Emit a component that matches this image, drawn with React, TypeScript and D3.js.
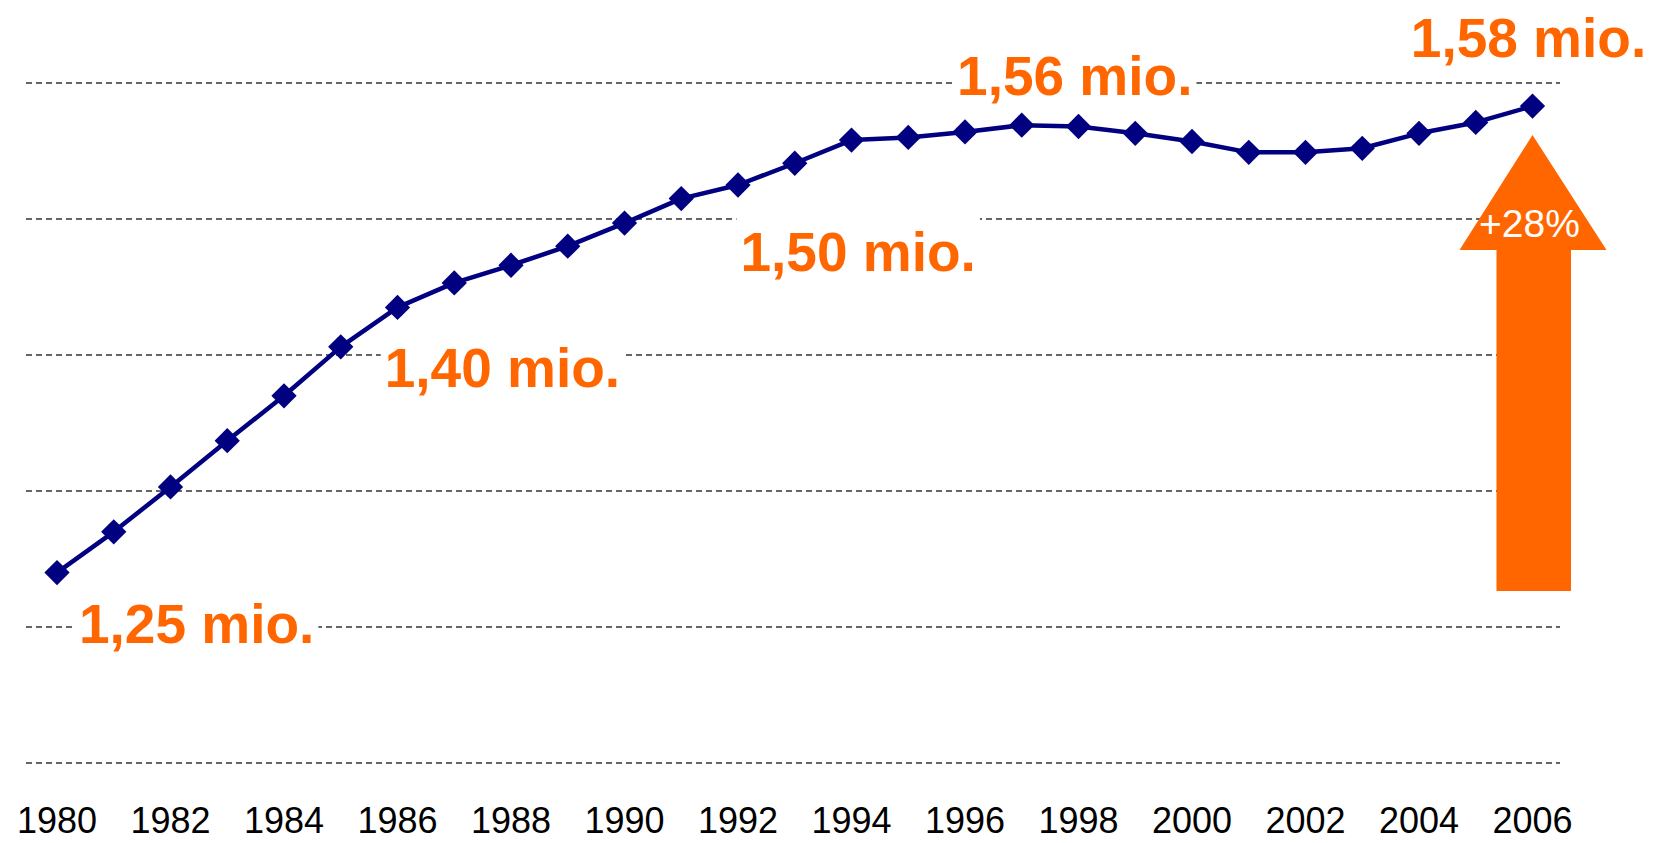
import { useEffect, useRef } from 'react'
import * as d3 from 'd3'

const years = [1980, 1981, 1982, 1983, 1984, 1985, 1986, 1987, 1988, 1989, 1990, 1991, 1992,
  1993, 1994, 1995, 1996, 1997, 1998, 1999, 2000, 2001, 2002, 2003, 2004, 2005, 2006]
// population, millions
const values = [1.240, 1.270, 1.303, 1.337, 1.370, 1.406, 1.435, 1.453, 1.466, 1.480, 1.497,
  1.515, 1.525, 1.541, 1.558, 1.560, 1.564, 1.569, 1.568, 1.563, 1.557, 1.549, 1.549,
  1.552, 1.563, 1.571, 1.583]
const gridValues = [1.1, 1.2, 1.3, 1.4, 1.5, 1.6]
const tickYears = [1980, 1982, 1984, 1986, 1988, 1990, 1992, 1994, 1996, 1998, 2000, 2002, 2004, 2006]
const labelTexts = ['1,25 mio.', '1,40 mio.', '1,50 mio.', '1,56 mio.', '1,58 mio.']
const labelYears = [1980, 1985, 1990, 1997, 2006]
const growthText = '+28%'

const ORANGE = '#ff6600'
const NAVY = '#000080'

export default function App() {
  const svgRef = useRef<SVGSVGElement>(null)

  useEffect(() => {
    if (!svgRef.current) return
    const svg = d3.select(svgRef.current)
    svg.selectAll('*').remove()

    const W = 1653, H = 843
    svg.attr('width', W).attr('height', H)

    const x = d3.scaleLinear().domain([1980, 2006]).range([57, 1532.5])
    const y = d3.scaleLinear().domain([1.1, 1.6]).range([763, 83])

    // dashed gridlines
    svg.append('g').selectAll('line').data(gridValues).join('line')
      .attr('x1', 26).attr('x2', 1560)
      .attr('y1', d => y(d)).attr('y2', d => y(d))
      .attr('stroke', '#333').attr('stroke-width', 1.5)
      .attr('stroke-dasharray', '6,4')

    // year labels
    svg.append('g').selectAll('text').data(tickYears).join('text')
      .attr('x', d => x(d)).attr('y', 833)
      .attr('text-anchor', 'middle')
      .attr('font-family', 'Liberation Sans, Arial, sans-serif')
      .attr('font-size', 36).attr('fill', '#000')
      .text(d => d)

    // value annotations with white boxes
    const offsets = [[22, 70, 'start'], [44, 40, 'start'], [116, 48, 'start'], [53, -30, 'middle'], [-4, -49, 'middle']]
    const lg = svg.append('g')
    labelTexts.forEach((txt, i) => {
      const yr = labelYears[i]
      const v = values[years.indexOf(yr)]
      const [dx, dy, anchor] = offsets[i] as [number, number, string]
      const gg = lg.append('g')
      const box = gg.append('rect').attr('fill', '#fff')
      const t = gg.append('text')
        .attr('x', x(yr) + dx).attr('y', y(v) + dy)
        .attr('text-anchor', anchor)
        .attr('font-family', 'Liberation Sans, Arial, sans-serif')
        .attr('font-weight', 'bold').attr('font-size', 55)
        .attr('fill', ORANGE)
        .text(txt)
      const bb = (t.node() as SVGTextElement).getBBox()
      box.attr('x', bb.x - 4).attr('y', bb.y - 6).attr('width', bb.width + 8).attr('height', bb.height + 8)
    })

    // series line
    const pts = years.map((yr, i) => [x(yr), y(values[i])] as [number, number])
    svg.append('path')
      .attr('d', d3.line()(pts))
      .attr('fill', 'none').attr('stroke', NAVY).attr('stroke-width', 4.5)
      .attr('stroke-linejoin', 'round')

    const diamond = d3.symbol(d3.symbolSquare, 320)
    svg.append('g').selectAll('path').data(pts).join('path')
      .attr('d', diamond)
      .attr('transform', d => `translate(${d[0]},${d[1]}) rotate(45)`)
      .attr('fill', NAVY)

    // growth arrow
    const ax = x(2006)
    const arrow = d3.path()
    arrow.moveTo(ax, 135)
    arrow.lineTo(ax + 74, 250)
    arrow.lineTo(ax + 38.5, 250)
    arrow.lineTo(ax + 38.5, 591)
    arrow.lineTo(ax - 36, 591)
    arrow.lineTo(ax - 36, 250)
    arrow.lineTo(ax - 73, 250)
    arrow.closePath()
    svg.append('path').attr('d', arrow.toString()).attr('fill', ORANGE)

    svg.append('text')
      .attr('x', ax - 3).attr('y', 237)
      .attr('text-anchor', 'middle')
      .attr('font-family', 'Liberation Sans, Arial, sans-serif')
      .attr('font-size', 39).attr('fill', '#fff')
      .text(growthText)
  }, [])

  return (
    <div style={{ position: 'absolute', left: 0, top: 0, background: '#fff' }}>
      <svg ref={svgRef} style={{ display: 'block' }} />
    </div>
  )
}
